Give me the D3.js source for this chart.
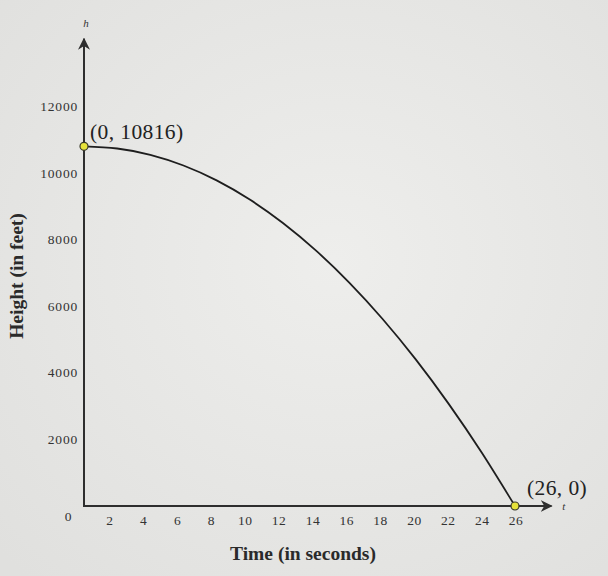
<!DOCTYPE html>
<html><head><meta charset="utf-8">
<script src="https://cdn.jsdelivr.net/npm/d3@7"></script>
<style>html,body{margin:0;padding:0;background:#e5e5e3;}svg{display:block;}</style>
</head><body>
<svg id="c" width="608" height="576"></svg>
<script>
// Data
const times = [0, 2, 4, 6, 8, 10, 12, 14, 16, 18, 20, 22, 24, 26];
const heights = [10816, 10752, 10560, 10240, 9792, 9216, 8512, 7680, 6720, 5632, 4416, 3072, 1600, 0];
const xTickLabels = [2, 4, 6, 8, 10, 12, 14, 16, 18, 20, 22, 24, 26];
const yTickLabels = [2000, 4000, 6000, 8000, 10000, 12000];
const keyPoints = [{t: 0, h: 10816, label: "(0, 10816)"}, {t: 26, h: 0, label: "(26, 0)"}];

const svg = d3.select("#c");
const W = 608, H = 576;
const serif = "'Liberation Serif','DejaVu Serif',serif";

// background with slight photo-like shading
const defs = svg.append("defs");
const g = defs.append("radialGradient").attr("id","bg").attr("cx","55%").attr("cy","45%").attr("r","75%");
g.append("stop").attr("offset","0%").attr("stop-color","#eeeeec");
g.append("stop").attr("offset","100%").attr("stop-color","#e0e0de");
svg.append("rect").attr("width",W).attr("height",H).attr("fill","url(#bg)");

const x = d3.scaleLinear().domain([0, 26]).range([84, 515]);
const xLab = d3.scaleLinear().domain([0, 26]).range([76, 516]);
const y = d3.scaleLinear().domain([0, 12000]).range([506, 107]);

const axisColor = "#2e2e2e";
defs.append("marker").attr("id","arr").attr("viewBox","0 0 10 10").attr("refX",9).attr("refY",5)
  .attr("markerWidth",12).attr("markerHeight",12).attr("orient","auto-start-reverse").attr("markerUnits","userSpaceOnUse")
  .append("path").attr("d","M0,0 L10,5 L0,10 L3,5 Z").attr("fill",axisColor);

// y axis
svg.append("line").attr("x1",x(0)).attr("x2",x(0)).attr("y1",y(0)+1).attr("y2",y(14050))
  .attr("stroke",axisColor).attr("stroke-width",2).attr("marker-end","url(#arr)");
// x axis
svg.append("line").attr("x1",x(0)-1).attr("x2",x(28.2)).attr("y1",y(0)).attr("y2",y(0))
  .attr("stroke",axisColor).attr("stroke-width",2).attr("marker-end","url(#arr)");

// axis letter labels
svg.append("text").attr("x",x(0)+2).attr("y",y(14400)).attr("text-anchor","middle")
  .attr("font-family",serif).attr("font-style","italic").attr("font-size",11).attr("fill","#333").text("h");
svg.append("text").attr("x",x(28.7)+4).attr("y",y(0)+4).attr("text-anchor","middle")
  .attr("font-family",serif).attr("font-style","italic").attr("font-size",11).attr("fill","#333").text("t");

const tickFont = 13.5;
// y tick labels
svg.append("g").selectAll("text").data(yTickLabels).join("text")
  .attr("x",78).attr("y",d=>y(d)+4).attr("text-anchor","end")
  .attr("font-family",serif).attr("font-size",tickFont).attr("letter-spacing",0.8).attr("fill","#333").text(d=>d);
// origin label
svg.append("text").attr("x",xLab(0)-8).attr("y",y(0)+15).attr("text-anchor","middle")
  .attr("font-family",serif).attr("font-size",tickFont).attr("fill","#333").text("0");
// x tick labels
svg.append("g").selectAll("text").data(xTickLabels).join("text")
  .attr("x",d=>xLab(d)).attr("y",y(0)+19).attr("text-anchor","middle")
  .attr("font-family",serif).attr("font-size",tickFont).attr("letter-spacing",0.5).attr("fill","#333").text(d=>d);

// axis titles
svg.append("text").attr("x",303).attr("y",560).attr("text-anchor","middle")
  .attr("font-family",serif).attr("font-weight","bold").attr("font-size",19.5).attr("fill","#2a2a2a")
  .text("Time (in seconds)");
svg.append("text").attr("transform","translate(23,276) rotate(-90)").attr("text-anchor","middle")
  .attr("font-family",serif).attr("font-weight","bold").attr("font-size",19.5).attr("fill","#2a2a2a")
  .text("Height (in feet)");

// curve
const data = times.map((t,i)=>({t, h: heights[i]}));
svg.append("path").datum(data)
  .attr("d", d3.line().x(d=>x(d.t)).y(d=>y(d.h)).curve(d3.curveNatural))
  .attr("fill","none").attr("stroke","#1e1e1e").attr("stroke-width",1.8);

// key points
svg.append("g").selectAll("circle").data(keyPoints).join("circle")
  .attr("cx",d=>x(d.t)).attr("cy",d=>y(d.h)).attr("r",4)
  .attr("fill","#e6e23a").attr("stroke","#3a3a2a").attr("stroke-width",1.2);
svg.append("g").selectAll("text").data(keyPoints).join("text")
  .attr("x",(d,i)=> i===0 ? x(d.t)+6 : x(d.t)+12)
  .attr("y",(d,i)=> i===0 ? y(d.h)-7 : y(d.h)-11)
  .attr("font-family",serif).attr("font-size",21.5).attr("letter-spacing",0.4).attr("fill","#222").text(d=>d.label);
</script>
</body></html>
